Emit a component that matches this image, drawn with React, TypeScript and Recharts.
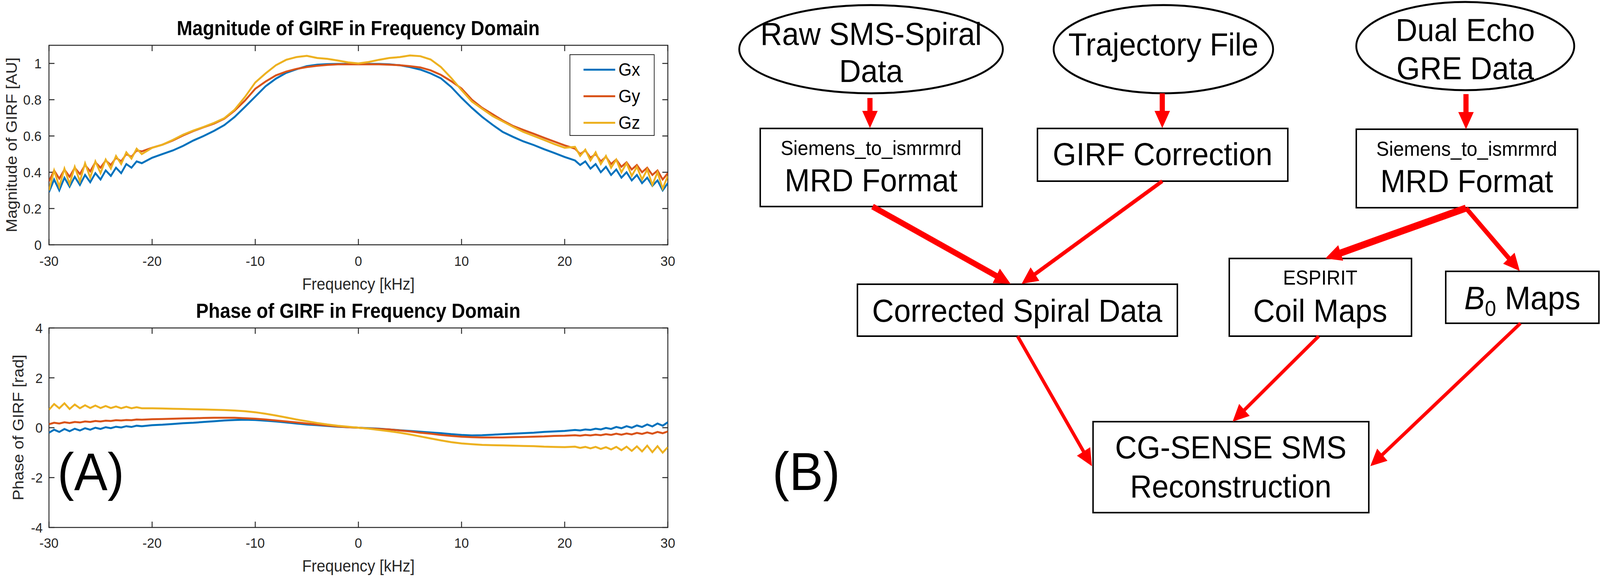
import React, { useLayoutEffect, useState } from "react";
import {
  LineChart,
  Line,
  XAxis,
  YAxis,
  Legend,
  Label,
  ReferenceArea,
  ReferenceLine,
} from "recharts";

const FONT = '"Liberation Sans", Arial, Helvetica, sans-serif';
const AX = "#262626";
const C_GX = "#0072BD";
const C_GY = "#D95319";
const C_GZ = "#EDB120";
const PAGE_W = 4346;
const PAGE_H = 1483;

// frequency grid [kHz], denser at the noisy ends
const freqs = [
  -30, -29.5, -29, -28.5, -28, -27.5, -27, -26.5, -26, -25.5, -25, -24.5, -24, -23.5, -23, -22.5, -22, -21.5, -21,
  -20, -19, -18, -17, -16, -15, -14, -13, -12, -11, -10, -9, -8, -7, -6, -5, -4, -3, -2, -1, 0,
  1, 2, 3, 4, 5, 6, 7, 8, 9, 10, 11, 12, 13, 14, 15, 16, 17, 18, 19, 20,
  21, 21.5, 22, 22.5, 23, 23.5, 24, 24.5, 25, 25.5, 26, 26.5, 27, 27.5, 28, 28.5, 29, 29.5, 30,
];

const gxMag = [
  0.29, 0.36, 0.3, 0.37, 0.32, 0.375, 0.33, 0.385, 0.345, 0.395, 0.36, 0.41, 0.38, 0.425, 0.395, 0.445, 0.425, 0.46, 0.45,
  0.48, 0.5, 0.52, 0.545, 0.575, 0.6, 0.628, 0.66, 0.705, 0.76, 0.817, 0.874, 0.916, 0.948, 0.968, 0.985, 0.993, 0.996, 0.997, 0.997, 0.998,
  0.997, 0.997, 0.995, 0.99, 0.98, 0.966, 0.945, 0.918, 0.87, 0.81, 0.755, 0.705, 0.662, 0.622, 0.595, 0.57, 0.55, 0.527, 0.506, 0.484,
  0.465, 0.44, 0.46, 0.42, 0.445, 0.4, 0.43, 0.385, 0.415, 0.37, 0.4, 0.355, 0.385, 0.34, 0.37, 0.325, 0.355, 0.3, 0.34,
];
const gyMag = [
  0.35, 0.41, 0.365, 0.415, 0.375, 0.425, 0.39, 0.44, 0.405, 0.455, 0.425, 0.465, 0.44, 0.48, 0.46, 0.5, 0.485, 0.52, 0.515,
  0.535, 0.552, 0.575, 0.603, 0.627, 0.648, 0.668, 0.695, 0.74, 0.795, 0.86, 0.9, 0.934, 0.955, 0.97, 0.98, 0.987, 0.992, 0.995, 0.995, 0.995,
  0.995, 0.995, 0.993, 0.99, 0.985, 0.978, 0.962, 0.937, 0.902, 0.862, 0.8, 0.755, 0.72, 0.685, 0.655, 0.633, 0.612, 0.59, 0.569, 0.548,
  0.53, 0.5, 0.52, 0.48, 0.5, 0.46, 0.485, 0.445, 0.47, 0.43, 0.455, 0.415, 0.44, 0.4, 0.425, 0.385, 0.41, 0.36, 0.395,
];
const gzMag = [
  0.3, 0.41, 0.32, 0.42, 0.335, 0.43, 0.35, 0.45, 0.37, 0.46, 0.395, 0.47, 0.42, 0.49, 0.445, 0.51, 0.475, 0.53, 0.5,
  0.535, 0.552, 0.578, 0.607, 0.63, 0.65, 0.672, 0.698, 0.745, 0.815, 0.895, 0.945, 0.99, 1.02, 1.035, 1.042, 1.03, 1.025, 1.016, 1.006, 1.0,
  1.008, 1.02, 1.03, 1.035, 1.044, 1.04, 1.022, 0.98, 0.92, 0.853, 0.79, 0.75, 0.71, 0.68, 0.65, 0.622, 0.6, 0.578, 0.555, 0.535,
  0.54, 0.49, 0.525, 0.465, 0.51, 0.445, 0.49, 0.425, 0.47, 0.4, 0.45, 0.38, 0.43, 0.36, 0.415, 0.33, 0.4, 0.31, 0.38,
];

const gxPhase = [
  -0.2, -0.08, -0.17, -0.05, -0.14, -0.04, -0.11, -0.02, -0.08, 0.0, -0.05, 0.02, -0.02, 0.04, 0.01, 0.06, 0.03, 0.08, 0.06,
  0.1, 0.12, 0.15, 0.18, 0.2, 0.23, 0.26, 0.29, 0.31, 0.32, 0.31, 0.28, 0.25, 0.21, 0.17, 0.13, 0.1, 0.07, 0.04, 0.02, 0,
  -0.02, -0.04, -0.07, -0.1, -0.13, -0.16, -0.19, -0.22, -0.26, -0.29, -0.31, -0.3, -0.28, -0.26, -0.24, -0.22, -0.2, -0.17, -0.15, -0.13,
  -0.09, -0.11, -0.07, -0.09, -0.04, -0.07, -0.01, -0.05, 0.03, -0.02, 0.06, 0.0, 0.09, 0.03, 0.13, 0.05, 0.17, 0.08, 0.22,
];
const gyPhase = [
  0.14, 0.2, 0.17, 0.22, 0.19, 0.23, 0.21, 0.25, 0.23, 0.27, 0.25, 0.28, 0.27, 0.3, 0.29, 0.31, 0.3, 0.33, 0.32,
  0.34, 0.35, 0.36, 0.37, 0.38, 0.39, 0.4, 0.4, 0.4, 0.38, 0.36, 0.33, 0.29, 0.25, 0.21, 0.17, 0.13, 0.09, 0.05, 0.02, 0,
  -0.03, -0.05, -0.07, -0.11, -0.15, -0.2, -0.24, -0.29, -0.33, -0.36, -0.38, -0.39, -0.39, -0.39, -0.38, -0.37, -0.36, -0.35, -0.33, -0.32,
  -0.3, -0.32, -0.29, -0.31, -0.28, -0.3, -0.26, -0.29, -0.24, -0.28, -0.23, -0.27, -0.21, -0.25, -0.19, -0.24, -0.17, -0.22, -0.15,
];
const gzPhase = [
  0.72, 0.95, 0.78, 0.98, 0.75, 0.93, 0.78, 0.9, 0.79, 0.89, 0.79, 0.87, 0.79, 0.85, 0.78, 0.84, 0.78, 0.82, 0.78,
  0.78, 0.77, 0.76, 0.75, 0.74, 0.73, 0.72, 0.71, 0.69, 0.66, 0.62, 0.56, 0.49, 0.41, 0.33, 0.26, 0.19, 0.13, 0.08, 0.04, 0,
  -0.04, -0.09, -0.14, -0.2, -0.27, -0.35, -0.43, -0.51, -0.58, -0.63, -0.66, -0.69, -0.7, -0.71, -0.72, -0.73, -0.74, -0.76, -0.77, -0.78,
  -0.76, -0.81, -0.77, -0.83, -0.77, -0.85, -0.78, -0.87, -0.77, -0.9, -0.76, -0.93, -0.75, -0.95, -0.72, -0.98, -0.74, -1.0, -0.78,
];

const xTicks = [-30, -20, -10, 0, 10, 20, 30];
const magTicks = [0, 0.2, 0.4, 0.6, 0.8, 1];
const phaseTicks = [-4, -2, 0, 2, 4];

const magRows = freqs.map((f, i) => ({ f, gx: gxMag[i], gy: gyMag[i], gz: gzMag[i] }));
const phaseRows = freqs.map((f, i) => ({ f, gx: gxPhase[i], gy: gyPhase[i], gz: gzPhase[i] }));

const tickStyle = { fontSize: 36, fill: AX, fontFamily: FONT };

// matlab-ish box with inward ticks on all four sides
function boxTicks(yMin: number, yMax: number, yTicks: number[], dx: number, dy: number) {
  const els: any[] = [];
  xTicks.forEach((t) => {
    els.push(<ReferenceLine key={"b" + t} segment={[{ x: t, y: yMin }, { x: t, y: yMin + dy }]} stroke={AX} strokeWidth={2.5} ifOverflow="visible" />);
    els.push(<ReferenceLine key={"t" + t} segment={[{ x: t, y: yMax }, { x: t, y: yMax - dy }]} stroke={AX} strokeWidth={2.5} ifOverflow="visible" />);
  });
  yTicks.forEach((t) => {
    els.push(<ReferenceLine key={"l" + t} segment={[{ x: -30, y: t }, { x: -30 + dx, y: t }]} stroke={AX} strokeWidth={2.5} ifOverflow="visible" />);
    els.push(<ReferenceLine key={"r" + t} segment={[{ x: 30, y: t }, { x: 30 - dx, y: t }]} stroke={AX} strokeWidth={2.5} ifOverflow="visible" />);
  });
  return els;
}

// x is the baseline of the rotated text
function yLabel(text: string, x: number, y: number) {
  return (
    <Label
      content={() => (
        <text x={x} y={y} transform={`rotate(-90 ${x} ${y})`} textAnchor="middle" fontSize={42} fill={AX} fontFamily={FONT}>
          {text}
        </text>
      )}
    />
  );
}

function LegendBox({ payload }: any) {
  return (
    <div style={{ width: 227, height: 205, border: "2.5px solid " + AX, background: "#fff", position: "relative", fontFamily: FONT }}>
      {(payload || []).map((p: any, i: number) => (
        <div key={p.value} style={{ position: "absolute", left: 36, top: 37 + i * 68 - 26, height: 52, display: "flex", alignItems: "center" }}>
          <div style={{ width: 86, height: 5, background: p.color }} />
          <span style={{ marginLeft: 9, fontSize: 46, color: "#000", lineHeight: "52px" }}>{p.value}</span>
        </div>
      ))}
    </div>
  );
}

function Arrow({ x1, y1, x2, y2, w, head = 44, half = 21 }: any) {
  const dx = x2 - x1;
  const dy = y2 - y1;
  const len = Math.sqrt(dx * dx + dy * dy);
  const ux = dx / len;
  const uy = dy / len;
  const bx = x2 - ux * head;
  const by = y2 - uy * head;
  const px = -uy;
  const py = ux;
  const pts = `${x2},${y2} ${bx + px * half},${by + py * half} ${bx - px * half},${by - py * half}`;
  return (
    <g>
      <line x1={x1} y1={y1} x2={bx + ux * 4} y2={by + uy * 4} stroke="#ff0000" strokeWidth={w} />
      <polygon points={pts} fill="#ff0000" />
    </g>
  );
}

function Box({ x, y, w, h }: any) {
  return <rect x={x} y={y} width={w} height={h} fill="#fff" stroke="#000" strokeWidth={4} />;
}

function T({ x, y, size = 82, children, anchor = "middle" }: any) {
  return (
    <text x={x} y={y} fontSize={size} textAnchor={anchor} fontFamily={FONT} fill="#000">
      {children}
    </text>
  );
}

function Flowchart() {
  return (
    <svg width={PAGE_W} height={PAGE_H} style={{ position: "absolute", left: 0, top: 0, pointerEvents: "none" }}>
      <T x={2366} y={115}>Raw SMS-Spiral</T>
      <T x={2366} y={210}>Data</T>
      <ellipse cx={2366} cy={126} rx={358} ry={113} fill="none" stroke="#000" strokeWidth={5} />
      <T x={3160} y={142}>Trajectory File</T>
      <ellipse cx={3160} cy={126} rx={298} ry={113} fill="none" stroke="#000" strokeWidth={5} />
      <T x={3980} y={105}>Dual Echo</T>
      <T x={3980} y={203}>GRE Data</T>
      <ellipse cx={3980} cy={118} rx={296} ry={113} fill="none" stroke="#000" strokeWidth={5} />

      <Box x={2065} y={329} w={603} h={200} />
      <T x={2366} y={397} size={52}>Siemens_to_ismrmrd</T>
      <T x={2366} y={490}>MRD Format</T>

      <Box x={2818} y={329} w={680} h={135} />
      <T x={3158} y={423}>GIRF Correction</T>

      <Box x={3684} y={331} w={601} h={201} />
      <T x={3984} y={399} size={52}>Siemens_to_ismrmrd</T>
      <T x={3984} y={492}>MRD Format</T>

      <Box x={2329} y={728} w={869} h={133} />
      <T x={2763} y={824}>Corrected Spiral Data</T>

      <Box x={3339} y={662} w={495} h={199} />
      <T x={3586} y={729} size={52}>ESPIRIT</T>
      <T x={3586} y={824}>Coil Maps</T>

      <Box x={3927} y={695} w={416} h={133} />
      <text x={4135} y={792} fontSize={84} textAnchor="middle" fontFamily={FONT} fill="#000">
        <tspan fontStyle="italic">B</tspan>
        <tspan fontSize={55} dy={17}>0</tspan>
        <tspan dy={-17}> Maps</tspan>
      </text>

      <Box x={2969} y={1080} w={749} h={233} />
      <T x={3343} y={1174}>CG-SENSE SMS</T>
      <T x={3343} y={1274}>Reconstruction</T>

      <T x={2098} y={1255} size={138} anchor="start">(B)</T>

      <Arrow x1={2363} y1={251} x2={2363} y2={328} w={14} />
      <Arrow x1={3157} y1={239} x2={3157} y2={328} w={14} />
      <Arrow x1={3982} y1={241} x2={3982} y2={331} w={14} />
      <Arrow x1={2370} y1={529} x2={2745} y2={727} w={15} />
      <Arrow x1={3157} y1={464} x2={2775} y2={727} w={10} />
      <Arrow x1={3982} y1={533} x2={3600} y2={662} w={18} />
      <Arrow x1={3982} y1={533} x2={4128} y2={694} w={12} />
      <Arrow x1={2764} y1={861} x2={2966} y2={1194} w={9} />
      <Arrow x1={3582} y1={861} x2={3348} y2={1080} w={9} />
      <Arrow x1={4130} y1={828} x2={3722} y2={1194} w={9} />
    </svg>
  );
}

export default function App() {
  // the fixed 4346x1483 layout is stretched onto the viewport the browser really gives
  const [fit, setFit] = useState({ sx: 1, sy: 1 });
  useLayoutEffect(() => {
    const sx = window.innerWidth / PAGE_W;
    const sy = window.innerHeight / PAGE_H;
    if (sx > 0 && sy > 0) setFit({ sx, sy });
  }, []);

  return (
    <div
      style={{
        position: "absolute",
        left: 0,
        top: 0,
        width: PAGE_W,
        height: PAGE_H,
        background: "#fff",
        fontFamily: FONT,
        transform: `scale(${fit.sx}, ${fit.sy})`,
        transformOrigin: "0 0",
      }}
    >
      <div style={{ position: "absolute", left: 0, top: 0 }}>
        <LineChart width={1900} height={760} data={magRows} margin={{ top: 116, right: 86, bottom: 0, left: 73 }}>
          <XAxis
            dataKey="f"
            type="number"
            domain={[-30, 30]}
            ticks={xTicks}
            height={133}
            tickLine={false}
            axisLine={false}
            tickMargin={22}
            tick={tickStyle}
            allowDataOverflow
          >
            <Label value="Frequency [kHz]" position="insideBottom" offset={18} fontSize={42} fill={AX} fontFamily={FONT} />
          </XAxis>
          <YAxis
            type="number"
            domain={[0, 1.1]}
            ticks={magTicks}
            width={60}
            tickLine={false}
            axisLine={false}
            tickMargin={14}
            tick={tickStyle}
            allowDataOverflow
            label={yLabel("Magnitude of GIRF [AU]", 46, 371)}
          />
          <ReferenceArea x1={-30} x2={30} y1={0} y2={1.1} fill="none" stroke={AX} strokeWidth={2.5} ifOverflow="visible" />
          {boxTicks(0, 1.1, magTicks, 0.535, 0.0323)}
          <Line dataKey="gx" name="Gx" stroke={C_GX} strokeWidth={5} dot={false} type="linear" isAnimationActive={false} />
          <Line dataKey="gy" name="Gy" stroke={C_GY} strokeWidth={5} dot={false} type="linear" isAnimationActive={false} />
          <Line dataKey="gz" name="Gz" stroke={C_GZ} strokeWidth={5} dot={false} type="linear" isAnimationActive={false} />
          <Legend
            layout="vertical"
            align="center"
            verticalAlign="middle"
            content={<LegendBox />}
            wrapperStyle={{ left: 1547, top: 139, width: 232, height: 210 }}
          />
          <text x={973} y={90} textAnchor="middle" fontSize={51} fontWeight="bold" fill="#000" fontFamily={FONT}>
            Magnitude of GIRF in Frequency Domain
          </text>
        </LineChart>
      </div>

      <div style={{ position: "absolute", left: 0, top: 760 }}>
        <LineChart width={1900} height={723} data={phaseRows} margin={{ top: 80, right: 86, bottom: 0, left: 73 }}>
          <XAxis
            dataKey="f"
            type="number"
            domain={[-30, 30]}
            ticks={xTicks}
            height={132}
            tickLine={false}
            axisLine={false}
            tickMargin={20}
            tick={tickStyle}
            allowDataOverflow
          >
            <Label value="Frequency [kHz]" position="insideBottom" offset={19} fontSize={42} fill={AX} fontFamily={FONT} />
          </XAxis>
          <YAxis
            type="number"
            domain={[-4, 4]}
            ticks={phaseTicks}
            width={60}
            tickLine={false}
            axisLine={false}
            tickMargin={11}
            tick={tickStyle}
            allowDataOverflow
            label={yLabel("Phase of GIRF [rad]", 64, 335)}
          />
          <ReferenceArea x1={-30} x2={30} y1={-4} y2={4} fill="none" stroke={AX} strokeWidth={2.5} ifOverflow="visible" />
          {boxTicks(-4, 4, phaseTicks, 0.535, 0.235)}
          <Line dataKey="gx" name="Gx" stroke={C_GX} strokeWidth={5} dot={false} type="linear" isAnimationActive={false} />
          <Line dataKey="gy" name="Gy" stroke={C_GY} strokeWidth={5} dot={false} type="linear" isAnimationActive={false} />
          <Line dataKey="gz" name="Gz" stroke={C_GZ} strokeWidth={5} dot={false} type="linear" isAnimationActive={false} />
          <text x={973} y={54} textAnchor="middle" fontSize={51} fontWeight="bold" fill="#000" fontFamily={FONT}>
            Phase of GIRF in Frequency Domain
          </text>
          <text x={156} y={495} fontSize={136} fill="#000" fontFamily={FONT}>
            (A)
          </text>
        </LineChart>
      </div>

      <Flowchart />
    </div>
  );
}
